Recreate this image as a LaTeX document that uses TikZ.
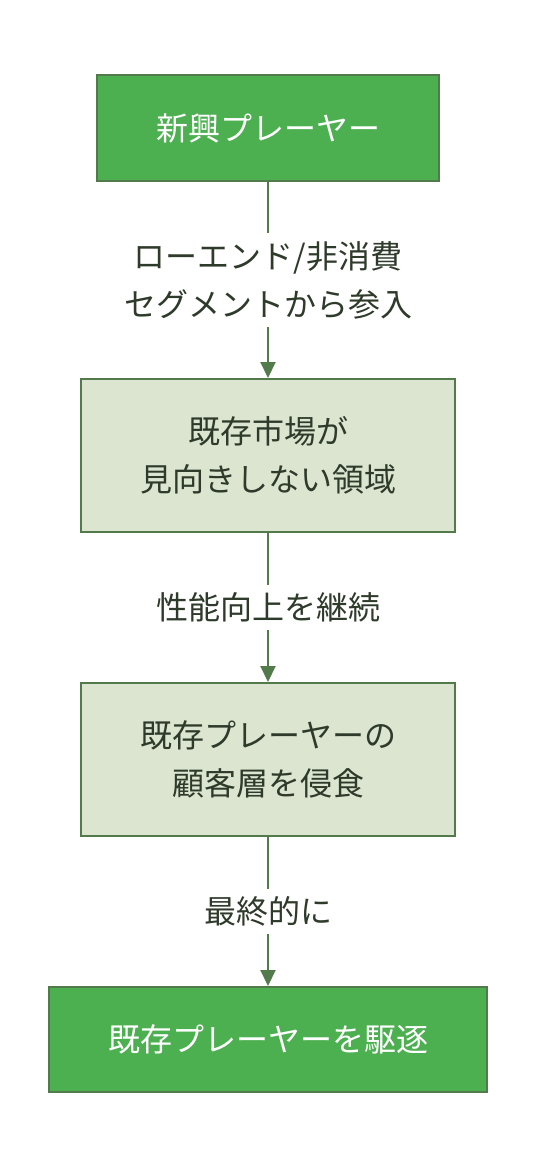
\documentclass[tikz,border=0pt]{standalone}
\usepackage{fontspec}
\newfontfamily\jpfont{Noto Sans CJK JP}
\usepackage{tikz}
\usetikzlibrary{positioning, arrows.meta}
\definecolor{leadgreen}{HTML}{4CAF50}
\definecolor{edgegreen}{HTML}{527A4A}
\definecolor{palegreen}{HTML}{DCE5D0}
\definecolor{textdark}{HTML}{2E3A2A}
\tikzstyle{player} = [rectangle, minimum height=106pt, text centered, draw=edgegreen, line width=2pt, fill=leadgreen, text=white, font=\jpfont\fontsize{32}{48}\selectfont]
\tikzstyle{stage} = [rectangle, minimum width=374pt, minimum height=153pt, align=center, draw=edgegreen, line width=2pt, fill=palegreen, text=textdark, font=\jpfont\fontsize{32}{48}\selectfont]
\tikzstyle{note} = [fill=white, inner xsep=4pt, inner ysep=8pt, align=center, text=textdark, font=\jpfont\fontsize{32}{48}\selectfont]
\tikzstyle{arrow} = [line width=2pt, draw=edgegreen, -{Triangle[width=15pt,length=16pt]}]

\begin{document}
\begin{tikzpicture}[x=1pt, y=1pt]
	\useasboundingbox (0,0) rectangle (536,-1172);
	\node(entrant) [player, minimum width=342pt] at (268,-128) {新興プレーヤー};
	\node(lowend) [stage, below=196pt of entrant] {既存市場が\\見向きしない領域};
	\node(erode) [stage, below=149pt of lowend] {既存プレーヤーの\\顧客層を侵食};
	\node(displace) [player, minimum width=438pt, minimum height=105pt, below=149pt of erode] {既存プレーヤーを駆逐};
	
	\draw[arrow] (entrant) -- node[note] {ローエンド/非消費\\セグメントから参入} (lowend);
	\draw[arrow] (lowend) -- node[note] {性能向上を継続} (erode);
	\draw[arrow] (erode) -- node[note] {最終的に} (displace);
\end{tikzpicture}
\end{document}
